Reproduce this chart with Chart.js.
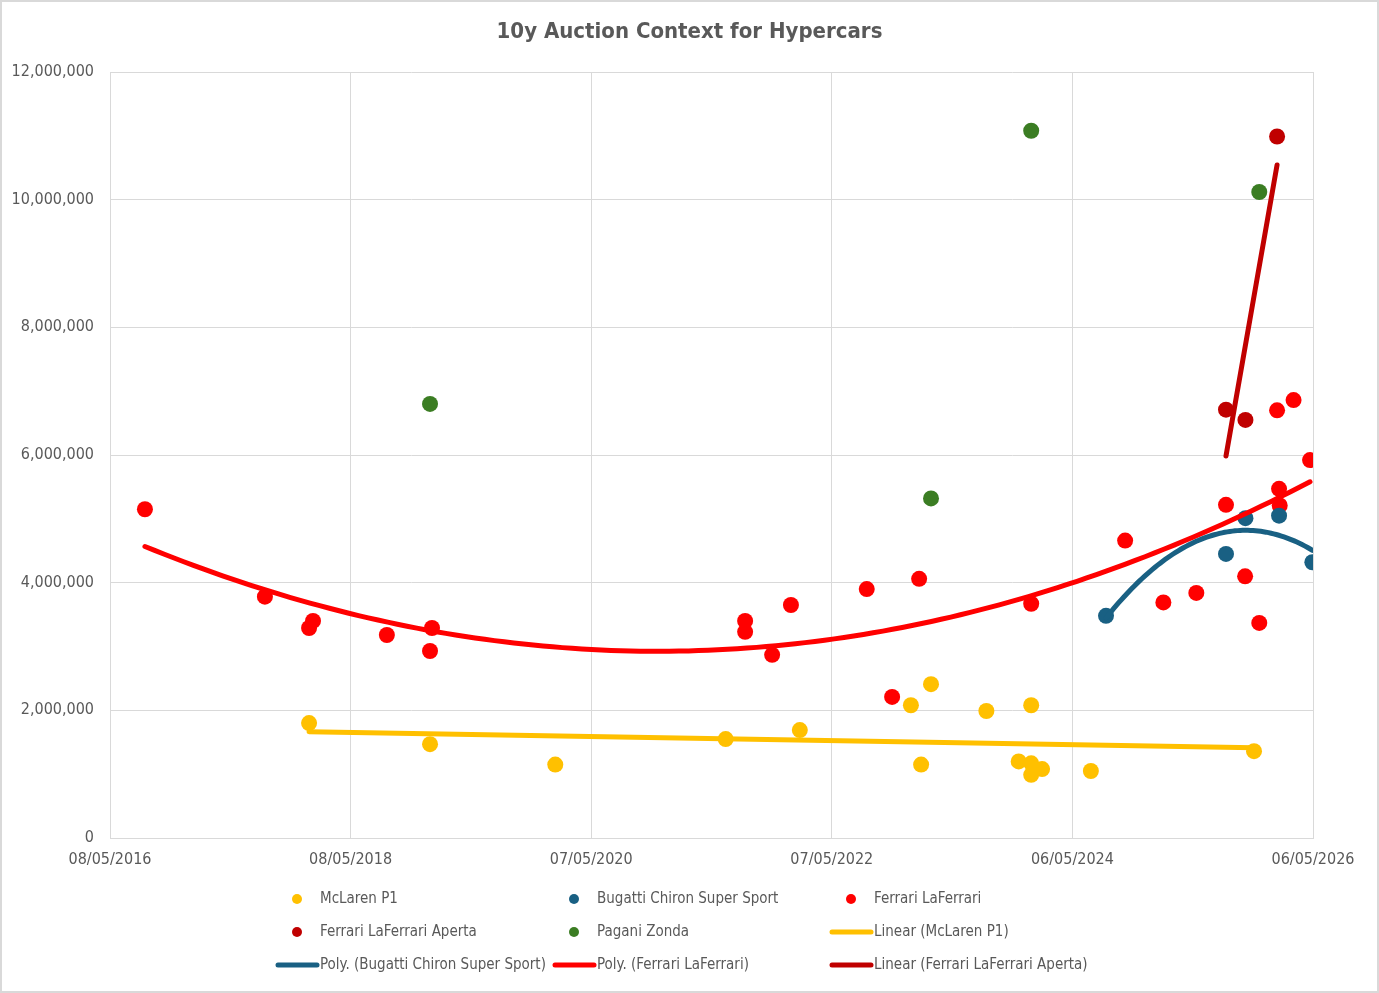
<!DOCTYPE html>
<html>
<head>
<meta charset="utf-8">
<title>10y Auction Context for Hypercars</title>
<script src="https://cdn.jsdelivr.net/npm/chart.js@4.4.1/dist/chart.umd.min.js"></script>
<style>
    html, body { margin: 0; padding: 0; background: #fff; }
    #wrap { width: 1379px; height: 993px; position: relative; }
</style>
</head>
<body>
<div id="wrap"><canvas id="auctionChart"></canvas></div>
<script>
// axis ticks (dd/mm/yyyy, 730 day steps like the Excel date axis)
const xTickLabels = ["08/05/2016", "08/05/2018", "07/05/2020", "07/05/2022", "06/05/2024", "06/05/2026"];
const yTickMax = 12000000;
const yTickStep = 2000000;

// sales
const mclarenDates = ["2018-01-02", "2019-01-04", "2020-01-19", "2021-06-19", "2022-01-30", "2023-01-02",
    "2023-02-02", "2023-03-04", "2023-08-19", "2024-01-02", "2023-11-25", "2024-01-02", "2024-02-04",
    "2024-01-02", "2024-07-01", "2025-11-08"];
const mclarenPrices = [1800000, 1470000, 1150000, 1550000, 1690000, 2080000,
    1150000, 2410000, 1990000, 2080000, 1200000, 1170000, 1080000,
    990000, 1050000, 1360000];

const bugattiDates = ["2024-08-16", "2025-08-15", "2025-10-13", "2026-01-23", "2026-05-04"];
const bugattiPrices = [3480000, 4450000, 5010000, 5050000, 4320000];

const laferrariDates = ["2016-08-22", "2017-08-21", "2018-01-02", "2018-01-14", "2018-08-26", "2019-01-04",
    "2019-01-10", "2021-08-17", "2021-08-17", "2021-11-07", "2022-01-03", "2022-08-21", "2022-11-06",
    "2023-01-27", "2024-01-02", "2024-10-13", "2025-02-06", "2025-05-17", "2025-08-15", "2025-10-12",
    "2025-11-24", "2026-01-17", "2026-03-08", "2026-01-23", "2026-01-25", "2026-04-27"];
const laferrariPrices = [5150000, 3780000, 3290000, 3400000, 3180000, 2930000,
    3290000, 3400000, 3230000, 2870000, 3650000, 3900000, 2210000,
    4060000, 3670000, 4660000, 3690000, 3840000, 5220000, 4100000,
    3370000, 6700000, 6860000, 5470000, 5210000, 5920000];

const apertaDates = ["2025-08-15", "2025-10-13", "2026-01-17"];
const apertaPrices = [6710000, 6550000, 10990000];

const zondaDates = ["2019-01-04", "2023-03-04", "2024-01-02", "2025-11-24"];
const zondaPrices = [6800000, 5320000, 11080000, 10120000];

const DAY = 86400000;
function isoToDay(s) {
    const p = s.split("-").map(Number);
    return Date.UTC(p[0], p[1] - 1, p[2]) / DAY;
}
function dmyToDay(s) {
    const p = s.split("/").map(Number);
    return Date.UTC(p[2], p[1] - 1, p[0]) / DAY;
}
function dayToDmy(v) {
    const d = new Date(Math.round(v) * DAY);
    const dd = String(d.getUTCDate()).padStart(2, "0");
    const mm = String(d.getUTCMonth() + 1).padStart(2, "0");
    return dd + "/" + mm + "/" + d.getUTCFullYear();
}
const xTicks = xTickLabels.map(dmyToDay);

function toPoints(dates, prices) {
    return dates.map((d, i) => ({ x: isoToDay(d), y: prices[i] }));
}

// least squares fits, same as excel trendlines
function fitLinear(pts) {
    const n = pts.length;
    const mx = pts.reduce((a, p) => a + p.x, 0) / n;
    const my = pts.reduce((a, p) => a + p.y, 0) / n;
    let sxy = 0, sxx = 0;
    pts.forEach(p => { sxy += (p.x - mx) * (p.y - my); sxx += (p.x - mx) ** 2; });
    const b = sxy / sxx;
    return x => my + b * (x - mx);
}
function fitPoly2(pts) {
    const n = pts.length;
    const mx = pts.reduce((a, p) => a + p.x, 0) / n;
    const s = [0, 0, 0, 0, 0], t = [0, 0, 0];
    pts.forEach(p => {
        const u = p.x - mx;
        for (let k = 0; k < 5; k++) s[k] += u ** k;
        for (let k = 0; k < 3; k++) t[k] += p.y * u ** k;
    });
    // solve 3x3 normal equations
    const m = [[s[0], s[1], s[2], t[0]], [s[1], s[2], s[3], t[1]], [s[2], s[3], s[4], t[2]]];
    for (let i = 0; i < 3; i++) {
        for (let j = i + 1; j < 3; j++) {
            const f = m[j][i] / m[i][i];
            for (let k = i; k < 4; k++) m[j][k] -= f * m[i][k];
        }
    }
    const c = [0, 0, 0];
    for (let i = 2; i >= 0; i--) {
        let v = m[i][3];
        for (let k = i + 1; k < 3; k++) v -= m[i][k] * c[k];
        c[i] = v / m[i][i];
    }
    return x => { const u = x - mx; return c[0] + c[1] * u + c[2] * u * u; };
}
function trendPoints(pts, fn, steps) {
    const xs = pts.map(p => p.x);
    const lo = Math.min(...xs), hi = Math.max(...xs);
    const out = [];
    for (let i = 0; i <= steps; i++) {
        const x = lo + (hi - lo) * i / steps;
        out.push({ x: x, y: fn(x) });
    }
    return out;
}

const mclaren = toPoints(mclarenDates, mclarenPrices);
const bugatti = toPoints(bugattiDates, bugattiPrices);
const laferrari = toPoints(laferrariDates, laferrariPrices);
const aperta = toPoints(apertaDates, apertaPrices);
const zonda = toPoints(zondaDates, zondaPrices);

const colors = {
    mclaren: "#ffc000",
    bugatti: "#196083",
    laferrari: "#ff0000",
    aperta: "#c00000",
    zonda: "#3b7d23",
};

function dots(label, data, color) {
    return {
        label: label,
        data: data,
        showLine: false,
        pointRadius: 8,
        pointHoverRadius: 8,
        pointBorderWidth: 0,
        pointBackgroundColor: color,
        backgroundColor: color,
        borderColor: color,
        order: 2,
    };
}
function trend(label, data, color) {
    return {
        label: label,
        data: data,
        showLine: true,
        pointRadius: 0,
        borderWidth: 5,
        borderColor: color,
        backgroundColor: color,
        borderCapStyle: "round",
        borderJoinStyle: "round",
        tension: 0,
        order: 1,
        isTrend: true,
    };
}

const chartTitle = "10y Auction Context for Hypercars";
const textColor = "#595959";
const fontFamily = "'Liberation Sans Narrow', 'DejaVu Sans Condensed', 'Liberation Sans', sans-serif";

// title over the whole canvas + legend laid out in 3 columns like the excel one
const excelLegend = {
    id: "excelLegend",
    beforeDraw(chart) {
        const ctx = chart.ctx;
        ctx.save();
        ctx.fillStyle = "#fff";
        ctx.fillRect(0, 0, chart.width, chart.height);
        ctx.strokeStyle = "#d9d9d9";
        ctx.lineWidth = 2;
        ctx.strokeRect(1, 1, chart.width - 2, chart.height - 2);
        ctx.restore();
    },
    afterDraw(chart) {
        const ctx = chart.ctx;
        ctx.save();
        ctx.fillStyle = textColor;
        ctx.font = "bold 22px " + fontFamily;
        ctx.textAlign = "center";
        ctx.textBaseline = "middle";
        ctx.fillText(chartTitle, chart.width / 2, 32);

        const colX = [320, 597, 874];
        ctx.font = "15px " + fontFamily;
        ctx.textAlign = "left";
        chart.data.datasets.forEach((ds, i) => {
            const tx = colX[i % 3];
            const ty = 898 + Math.floor(i / 3) * 33;
            if (ds.isTrend) {
                ctx.strokeStyle = ds.borderColor;
                ctx.lineWidth = 5;
                ctx.lineCap = "round";
                ctx.beginPath();
                ctx.moveTo(tx - 42, ty + 1);
                ctx.lineTo(tx - 3, ty + 1);
                ctx.stroke();
            } else {
                ctx.fillStyle = ds.backgroundColor;
                ctx.beginPath();
                ctx.arc(tx - 23, ty + 1, 5, 0, Math.PI * 2);
                ctx.fill();
            }
            ctx.fillStyle = textColor;
            ctx.fillText(ds.label, tx, ty + 1);
        });
        ctx.restore();
    },
};

new Chart(document.getElementById("auctionChart"), {
    type: "scatter",
    data: {
        datasets: [
            dots("McLaren P1", mclaren, colors.mclaren),
            dots("Bugatti Chiron Super Sport", bugatti, colors.bugatti),
            dots("Ferrari LaFerrari", laferrari, colors.laferrari),
            dots("Ferrari LaFerrari Aperta", aperta, colors.aperta),
            dots("Pagani Zonda", zonda, colors.zonda),
            trend("Linear (McLaren P1)", trendPoints(mclaren, fitLinear(mclaren), 2), colors.mclaren),
            trend("Poly. (Bugatti Chiron Super Sport)", trendPoints(bugatti, fitPoly2(bugatti), 80), colors.bugatti),
            trend("Poly. (Ferrari LaFerrari)", trendPoints(laferrari, fitPoly2(laferrari), 120), colors.laferrari),
            trend("Linear (Ferrari LaFerrari Aperta)", trendPoints(aperta, fitLinear(aperta), 2), colors.aperta),
        ],
    },
    options: {
        responsive: true,
        maintainAspectRatio: false,
        animation: false,
        layout: {
            padding: { left: 0, right: 66, top: 72, bottom: 0 },
        },
        plugins: {
            legend: { display: false },
            tooltip: { enabled: false },
            title: { display: false },
        },
        scales: {
            x: {
                type: "linear",
                min: xTicks[0],
                max: xTicks[xTicks.length - 1],
                afterBuildTicks: (scale) => {
                    scale.ticks = xTicks.map(v => ({ value: v }));
                },
                afterFit: (scale) => { scale.height = 155; },
                grid: { color: "#d9d9d9", lineWidth: 1, drawTicks: false },
                border: { color: "#d9d9d9" },
                ticks: {
                    color: textColor,
                    font: { family: fontFamily, size: 16 },
                    padding: 12,
                    maxRotation: 0,
                    autoSkip: false,
                    callback: (v) => dayToDmy(v),
                },
            },
            y: {
                min: 0,
                max: yTickMax,
                afterFit: (scale) => { scale.width = 110; },
                grid: { color: "#d9d9d9", lineWidth: 1, drawTicks: false },
                border: { color: "#d9d9d9" },
                ticks: {
                    stepSize: yTickStep,
                    color: textColor,
                    font: { family: fontFamily, size: 16 },
                    padding: 16,
                    callback: (v) => v.toLocaleString("en-US"),
                },
            },
        },
    },
    plugins: [excelLegend],
});
</script>
</body>
</html>
